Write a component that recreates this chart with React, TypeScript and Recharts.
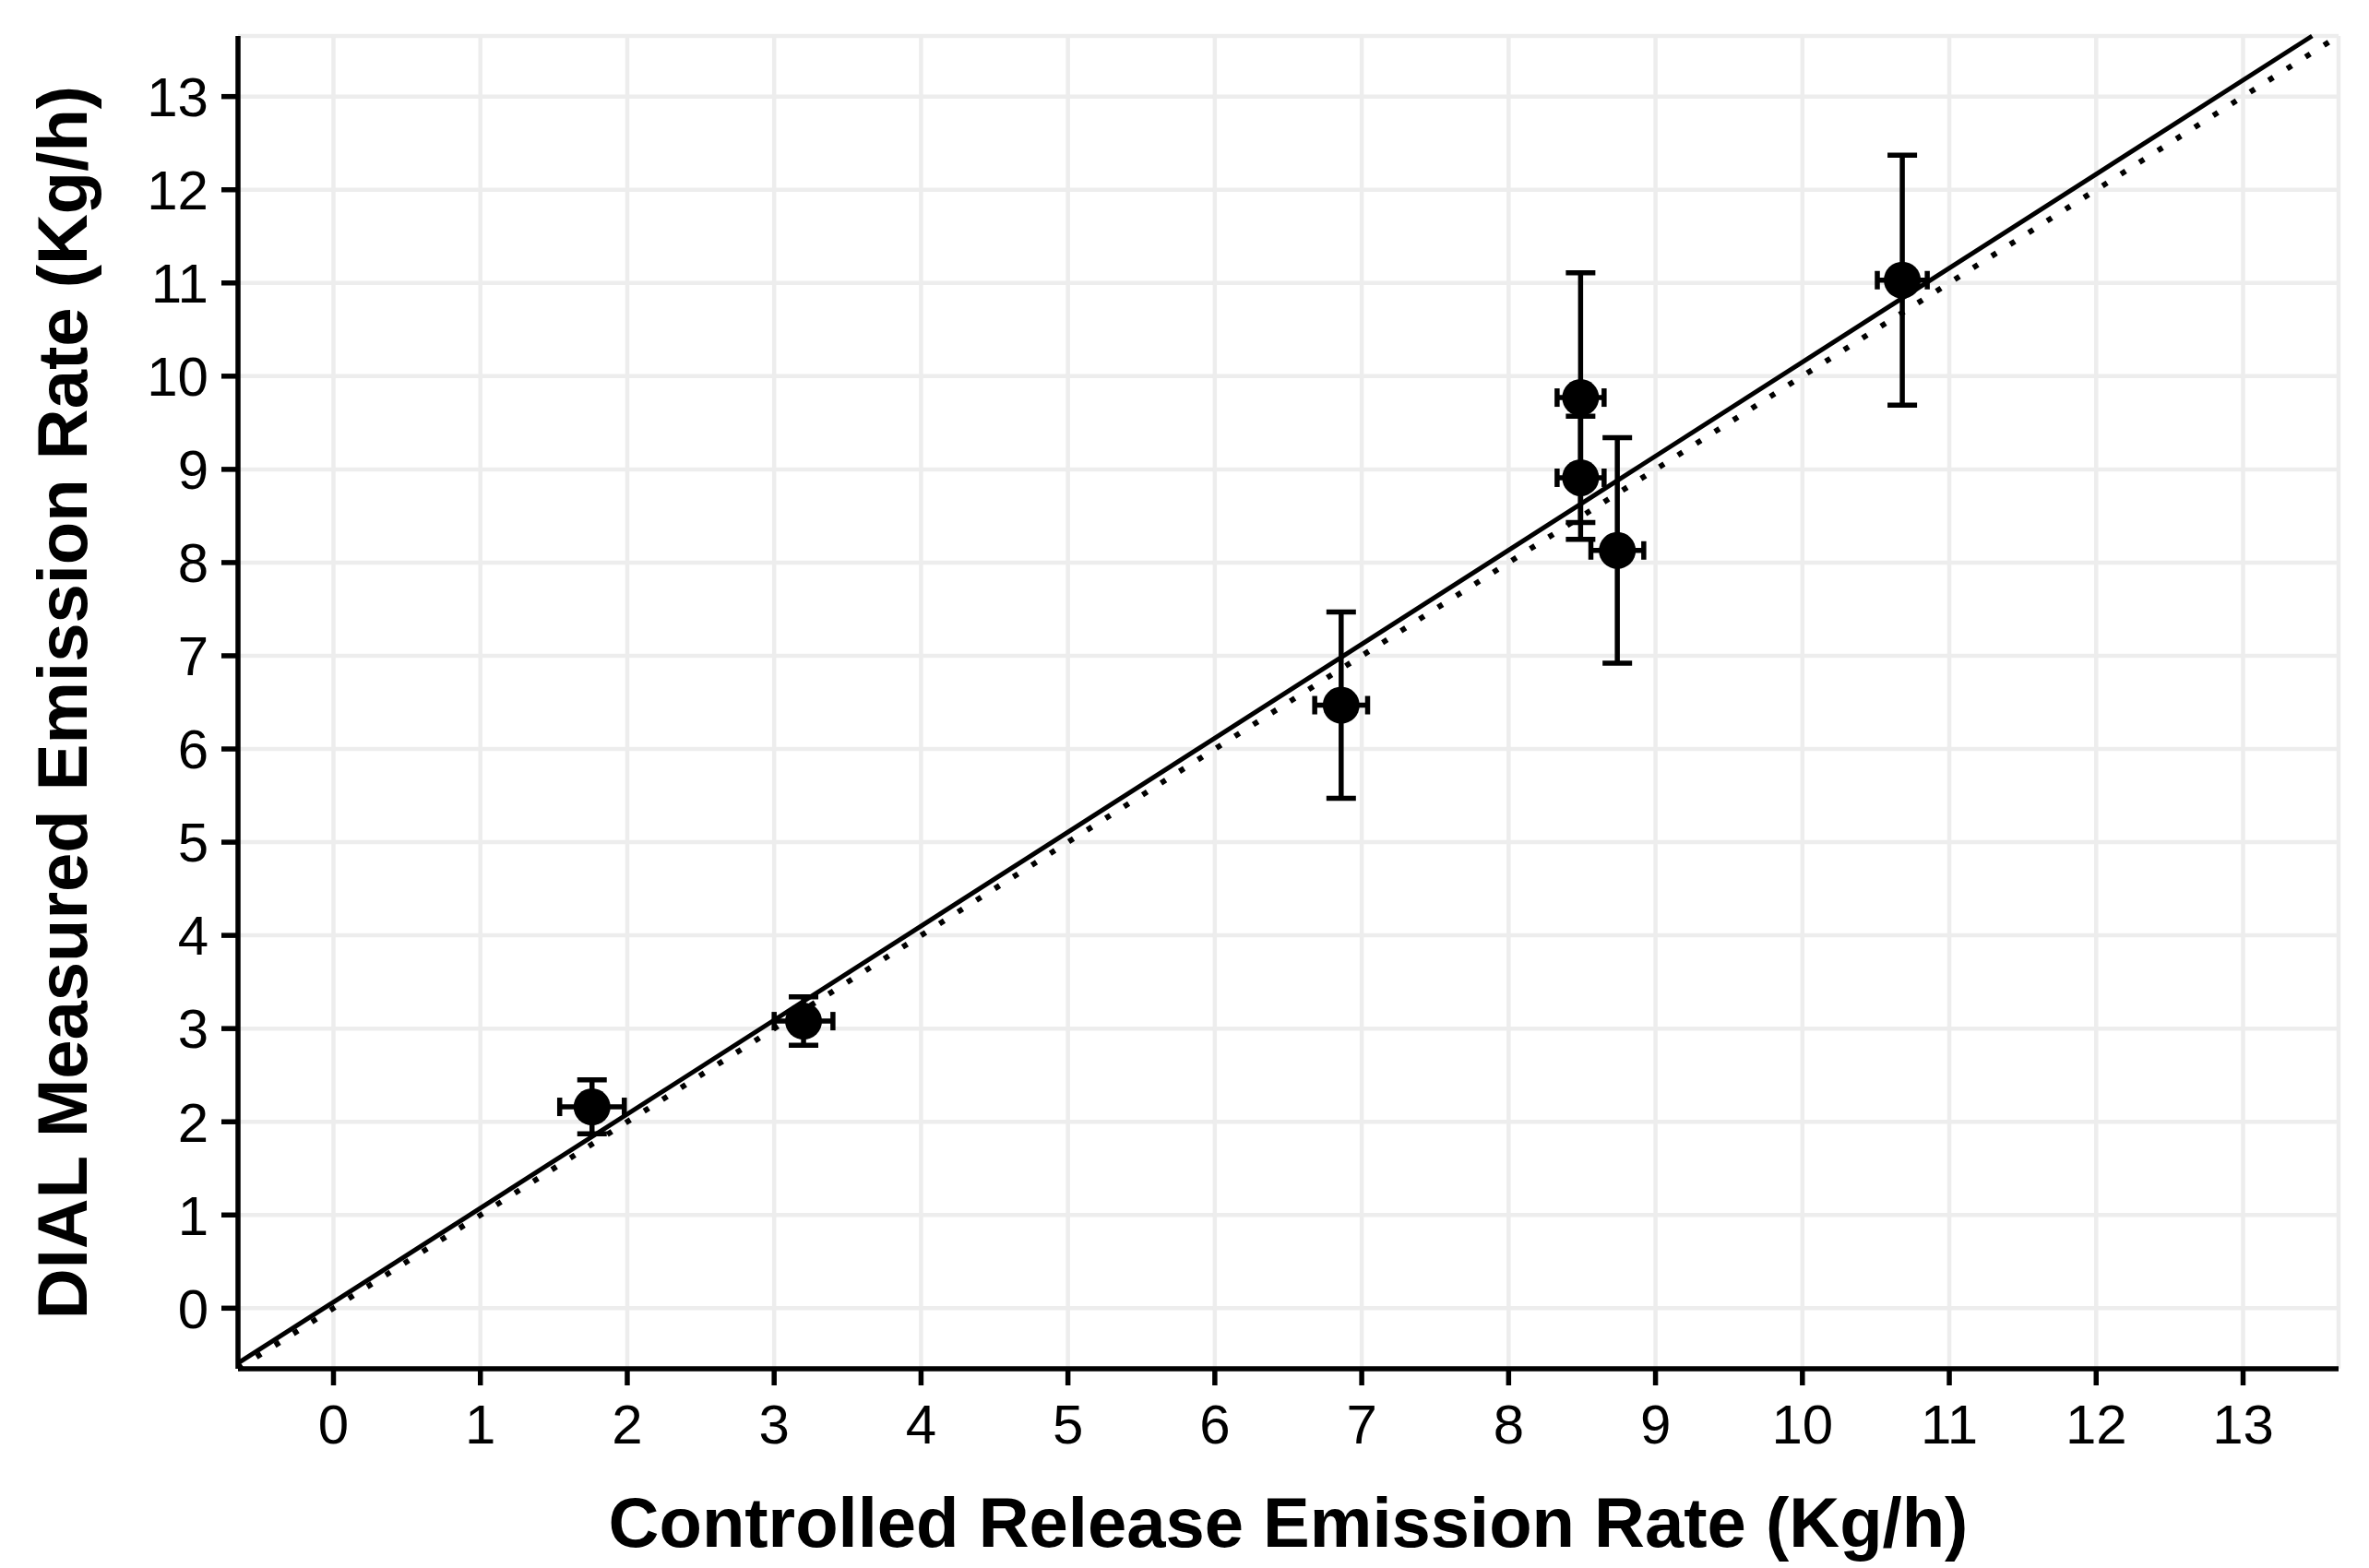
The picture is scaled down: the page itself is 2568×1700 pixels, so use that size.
import React from 'react';
import {
  ScatterChart,
  Scatter,
  XAxis,
  YAxis,
  CartesianGrid,
  ErrorBar,
  ReferenceLine,
  Label,
} from 'recharts';

// Controlled release (x) vs DIAL measured (y) emission rates, Kg/h
const releaseRates = [1.76, 3.2, 6.86, 8.49, 8.49, 8.74, 10.68];
const measuredRates = [2.16, 3.08, 6.47, 9.77, 8.91, 8.13, 11.03];
const measuredErrors = [0.29, 0.26, 1.0, 1.34, 0.66, 1.21, 1.34];
const releaseErrors = [0.22, 0.2, 0.18, 0.16, 0.16, 0.18, 0.17];

// Axis ticks and range
const axisTicks = [0, 1, 2, 3, 4, 5, 6, 7, 8, 9, 10, 11, 12, 13];
const axisDomain: [number, number] = [-0.65, 13.65];

// Fitted regression line endpoints (solid) and 1:1 line endpoints (dotted)
const fitLineX = [-0.65, 13.47];
const fitLineY = [-0.59, 13.65];
const identityLineX = [-0.65, 13.65];
const identityLineY = [-0.65, 13.65];

const xTitle = 'Controlled Release Emission Rate (Kg/h)';
const yTitle = 'DIAL Measured Emission Rate (Kg/h)';

const FONT = '"Liberation Sans", Arial, Helvetica, sans-serif';

const points = releaseRates.map((x, i) => ({
  x,
  y: measuredRates[i],
  yErr: measuredErrors[i],
  xErr: releaseErrors[i],
}));

const Dot = (props: any) => {
  const { cx, cy } = props;
  if (cx == null || cy == null) return null;
  return <circle cx={cx} cy={cy} r={20} fill="#000" />;
};

export default function App() {
  return (
    <div style={{ position: 'absolute', left: 0, top: 0, background: '#fff' }}>
      <ScatterChart
        width={2568}
        height={1700}
        margin={{ top: 39, right: 33, bottom: 0, left: 0 }}
      >
        <CartesianGrid stroke="#ededed" strokeWidth={4.5} />
        <XAxis
          type="number"
          dataKey="x"
          domain={axisDomain}
          ticks={axisTicks}
          allowDataOverflow
          height={216}
          interval={0}
          axisLine={{ stroke: '#000', strokeWidth: 5.5 }}
          tickLine={{ stroke: '#000', strokeWidth: 5.5 }}
          tickSize={18}
          tickMargin={20}
          tick={{ fill: '#000', fontSize: 60, fontFamily: FONT }}
        >
          <Label
            content={(p: any) => {
              const vb = p.viewBox || {};
              return (
                <text
                  x={vb.x + vb.width / 2}
                  y={vb.y + 193}
                  textAnchor="middle"
                  fontSize={76}
                  fontWeight="bold"
                  fontFamily={FONT}
                  fill="#000"
                >
                  {xTitle}
                </text>
              );
            }}
          />
        </XAxis>
        <YAxis
          type="number"
          dataKey="y"
          domain={axisDomain}
          ticks={axisTicks}
          allowDataOverflow
          width={258}
          interval={0}
          axisLine={{ stroke: '#000', strokeWidth: 5.5 }}
          tickLine={{ stroke: '#000', strokeWidth: 5.5 }}
          tickSize={18}
          tickMargin={14}
          tick={{ fill: '#000', fontSize: 60, fontFamily: FONT }}
        >
          <Label
            content={(p: any) => {
              const vb = p.viewBox || {};
              const cx = vb.x + 94;
              const cy = vb.y + vb.height / 2;
              return (
                <text
                  x={cx}
                  y={cy}
                  transform={`rotate(-90, ${cx}, ${cy})`}
                  textAnchor="middle"
                  fontSize={76}
                  fontWeight="bold"
                  fontFamily={FONT}
                  fill="#000"
                >
                  {yTitle}
                </text>
              );
            }}
          />
        </YAxis>
        <ReferenceLine
          segment={[
            { x: identityLineX[0], y: identityLineY[0] },
            { x: identityLineX[1], y: identityLineY[1] },
          ]}
          stroke="#000"
          strokeWidth={6}
          strokeDasharray="6 17.7"
          ifOverflow="visible"
        />
        <ReferenceLine
          segment={[
            { x: fitLineX[0], y: fitLineY[0] },
            { x: fitLineX[1], y: fitLineY[1] },
          ]}
          stroke="#000"
          strokeWidth={5}
          ifOverflow="visible"
        />
        <Scatter data={points} shape={Dot} isAnimationActive={false} fill="#000">
          <ErrorBar
            dataKey="yErr"
            direction="y"
            width={16}
            stroke="#000"
            strokeWidth={5.5}
            isAnimationActive={false}
          />
          <ErrorBar
            dataKey="xErr"
            direction="x"
            width={10}
            stroke="#000"
            strokeWidth={5.5}
            isAnimationActive={false}
          />
        </Scatter>
      </ScatterChart>
    </div>
  );
}
